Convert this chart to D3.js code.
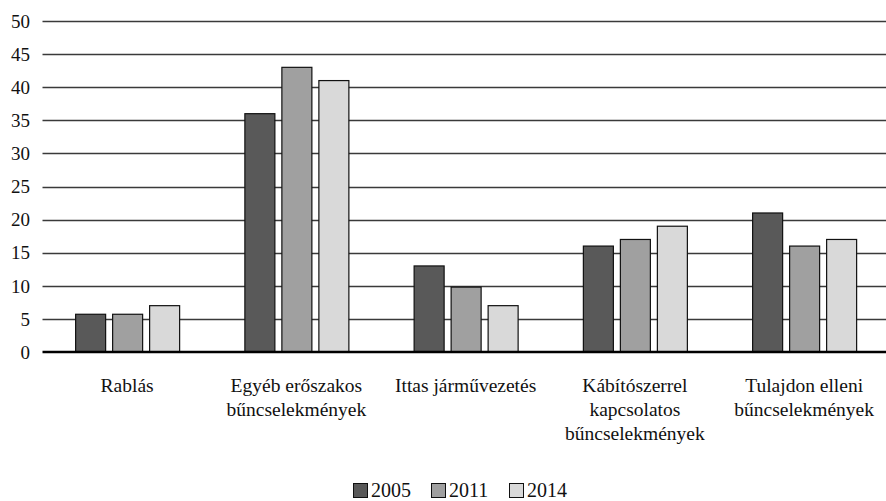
<!DOCTYPE html>
<html>
<head>
<meta charset="utf-8">
<script src="https://cdn.jsdelivr.net/npm/d3@7"></script>
<style>
  html, body { margin: 0; padding: 0; background: #fff; }
  svg { display: block; }
  text { font-family: "Liberation Serif", "Times New Roman", serif; fill: #111; }
</style>
</head>
<body>
<svg id="chart" width="886" height="501"></svg>
<script>
const categories = [
  "Rablás",
  "Egyéb erőszakos\nbűncselekmények",
  "Ittas járművezetés",
  "Kábítószerrel\nkapcsolatos\nbűncselekmények",
  "Tulajdon elleni\nbűncselekmények"
];
const seriesNames = ["2005", "2011", "2014"];
const values2005 = [5.7, 36, 13, 16, 21];
const values2011 = [5.7, 43, 9.8, 17, 16];
const values2014 = [7, 41, 7, 19, 17];
const yTicks = [0, 5, 10, 15, 20, 25, 30, 35, 40, 45, 50];
const colors = ["#595959", "#a0a0a0", "#d9d9d9"];

const seriesValues = [values2005, values2011, values2014];
const data = categories.map((c, i) => ({
  category: c,
  values: seriesNames.map((s, j) => ({ series: s, value: seriesValues[j][i] }))
}));

const svg = d3.select("#chart");
const mLeft = 42.5, mRight = 888.75, mTop = 21, mBottom = 352;

const x0 = d3.scaleBand().domain(categories).range([mLeft, mRight]).padding(0);
const groupW = 104;
const x1 = d3.scaleBand().domain(seriesNames).range([0, groupW]).paddingInner(7 / 37).paddingOuter(0);
const y = d3.scaleLinear().domain([0, 50]).range([mBottom, mTop]);
const color = d3.scaleOrdinal().domain(seriesNames).range(colors);

// gridlines
svg.append("g").selectAll("line")
  .data(yTicks.filter(d => d > 0))
  .join("line")
  .attr("x1", mLeft).attr("x2", 886)
  .attr("y1", d => Math.round(y(d)) + 0.5).attr("y2", d => Math.round(y(d)) + 0.5)
  .attr("stroke", "#3a3a3a").attr("stroke-width", 1.3);

// y axis labels
const yAxis = d3.axisLeft(y).tickValues(yTicks).tickSize(0).tickPadding(0);
const ya = svg.append("g").attr("transform", "translate(30,0)").call(yAxis);
ya.select(".domain").remove();
ya.selectAll("text")
  .attr("font-family", "Liberation Serif, serif")
  .attr("font-size", 19)
  .attr("fill", "#111")
  .attr("dy", "0.33em");

// bars
const groups = svg.append("g").selectAll("g")
  .data(data)
  .join("g")
  .attr("transform", d => `translate(${x0(d.category) + (x0.bandwidth() - groupW) / 2},0)`);

groups.selectAll("rect")
  .data(d => d.values)
  .join("rect")
  .attr("x", d => x1(d.series) + 0.5)
  .attr("y", d => y(d.value))
  .attr("width", x1.bandwidth())
  .attr("height", d => mBottom - y(d.value))
  .attr("fill", d => color(d.series))
  .attr("stroke", "#111")
  .attr("stroke-width", 1.2);

// zero line
svg.append("line")
  .attr("x1", mLeft).attr("x2", 886)
  .attr("y1", y(0)).attr("y2", y(0))
  .attr("stroke", "#000").attr("stroke-width", 2.5);

// category labels
const xa = svg.append("g");
xa.selectAll("text")
  .data(categories)
  .join("text")
  .attr("x", d => x0(d) + x0.bandwidth() / 2)
  .attr("y", 392)
  .attr("text-anchor", "middle")
  .attr("font-size", 19.5)
  .each(function(d) {
    const t = d3.select(this);
    d.split("\n").forEach((line, i) => {
      t.append("tspan")
        .attr("x", x0(d) + x0.bandwidth() / 2)
        .attr("dy", i === 0 ? 0 : 24)
        .text(line);
    });
  });

// legend
const legendX = [353, 431, 509];
const lg = svg.append("g").selectAll("g")
  .data(seriesNames)
  .join("g")
  .attr("transform", (d, i) => `translate(${legendX[i]},483)`);
lg.append("rect")
  .attr("x", 0.5).attr("y", 0.5)
  .attr("width", 14).attr("height", 14)
  .attr("fill", d => color(d))
  .attr("stroke", "#111").attr("stroke-width", 1);
lg.append("text")
  .attr("x", 18).attr("y", 14)
  .attr("font-size", 20)
  .text(d => d);
</script>
</body>
</html>
